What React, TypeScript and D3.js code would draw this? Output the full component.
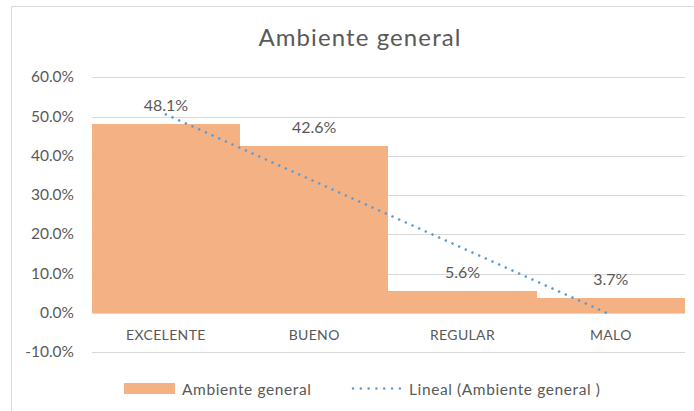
import React from "react";
import * as d3 from "d3";

const title = "Ambiente general";
const categories = ["EXCELENTE", "BUENO", "REGULAR", "MALO"];
const values = [0.481, 0.426, 0.056, 0.037];
const yTicks = [-0.1, 0, 0.1, 0.2, 0.3, 0.4, 0.5, 0.6];
const seriesName = "Ambiente general";
const trendName = "Lineal (Ambiente general )";

const W = 694;
const H = 411;
const FONT = "Lato, 'Open Sans', sans-serif";
const TEXT = "#595959";
const GRID = "#D9D9D9";
const BAR = "#F4B183";
const TREND = "#5B9BD5";

export default function App() {
  const x = d3.scaleBand<string>().domain(categories).range([91.7, 685]).padding(0);
  const y = d3.scaleLinear().domain([-0.1, 0.6]).range([352, 77.3]);
  const fmt = (v: number) => d3.format(".1%")(v).replace("\u2212", "-");

  // Linear trendline (least squares over category index 1..n)
  const n = values.length;
  const xs = values.map((_, i) => i + 1);
  const mx = d3.mean(xs)!;
  const my = d3.mean(values)!;
  const sxy = d3.sum(xs.map((xi, i) => (xi - mx) * (values[i] - my)));
  const sxx = d3.sum(xs.map((xi) => (xi - mx) ** 2));
  const slope = sxy / sxx;
  const intercept = my - slope * mx;
  const cx = (i: number) => x(categories[i])! + x.bandwidth() / 2;
  const trendPts: [number, number][] = [0, n - 1].map((i) => [cx(i), y(intercept + slope * (i + 1))]);
  const line = d3.line();

  return (
    <svg width={W} height={H} style={{ position: "absolute", left: 0, top: 0, display: "block" }}>
      <rect x={0} y={0} width={W} height={H} fill="#fff" />
      <rect x={11.5} y={6.5} width={W + 20} height={H + 20} fill="#fff" stroke={GRID} strokeWidth={1} />
      <text x={360} y={46} textAnchor="middle" fontFamily={FONT} fontSize={24} fill={TEXT} letterSpacing={1.1}>
        {title}
      </text>
      {yTicks.map((t) => (
        <g key={t}>
          <line x1={91.7} x2={685} y1={Math.round(y(t)) + 0.5} y2={Math.round(y(t)) + 0.5} stroke={GRID} strokeWidth={1} />
          <text x={74} y={y(t) + 5} textAnchor="end" fontFamily={FONT} fontSize={15.5} fill={TEXT}>
            {fmt(t)}
          </text>
        </g>
      ))}
      {categories.map((c, i) => (
        <rect
          key={c}
          x={Math.round(x(c)!)}
          y={y(values[i])}
          width={Math.round(x(c)! + x.bandwidth()) - Math.round(x(c)!)}
          height={y(0) - y(values[i])}
          fill={BAR}
          shapeRendering="crispEdges"
        />
      ))}
      {categories.map((c, i) => (
        <text key={c} x={cx(i)} y={y(values[i]) - 13} textAnchor="middle" fontFamily={FONT} fontSize={16} fill={TEXT}>
          {fmt(values[i])}
        </text>
      ))}
      <path d={line(trendPts)!} fill="none" stroke={TREND} strokeWidth={2.6} strokeDasharray="0.01 7.3" strokeLinecap="round" />
      {categories.map((c, i) => (
        <text key={c} x={cx(i)} y={340} textAnchor="middle" fontFamily={FONT} fontSize={14} fill={TEXT} letterSpacing={0.35}>
          {c}
        </text>
      ))}
      <rect x={124} y={383} width={51} height={11} fill={BAR} />
      <text x={182} y={395} fontFamily={FONT} fontSize={15.5} fill={TEXT} letterSpacing={0.6}>
        {seriesName}
      </text>
      <line x1={353} x2={400} y1={388.5} y2={388.5} stroke={TREND} strokeWidth={2.6} strokeDasharray="0.01 7.8" strokeLinecap="round" />
      <text x={409} y={395} fontFamily={FONT} fontSize={15.5} fill={TEXT} letterSpacing={0.6}>
        {trendName}
      </text>
    </svg>
  );
}
